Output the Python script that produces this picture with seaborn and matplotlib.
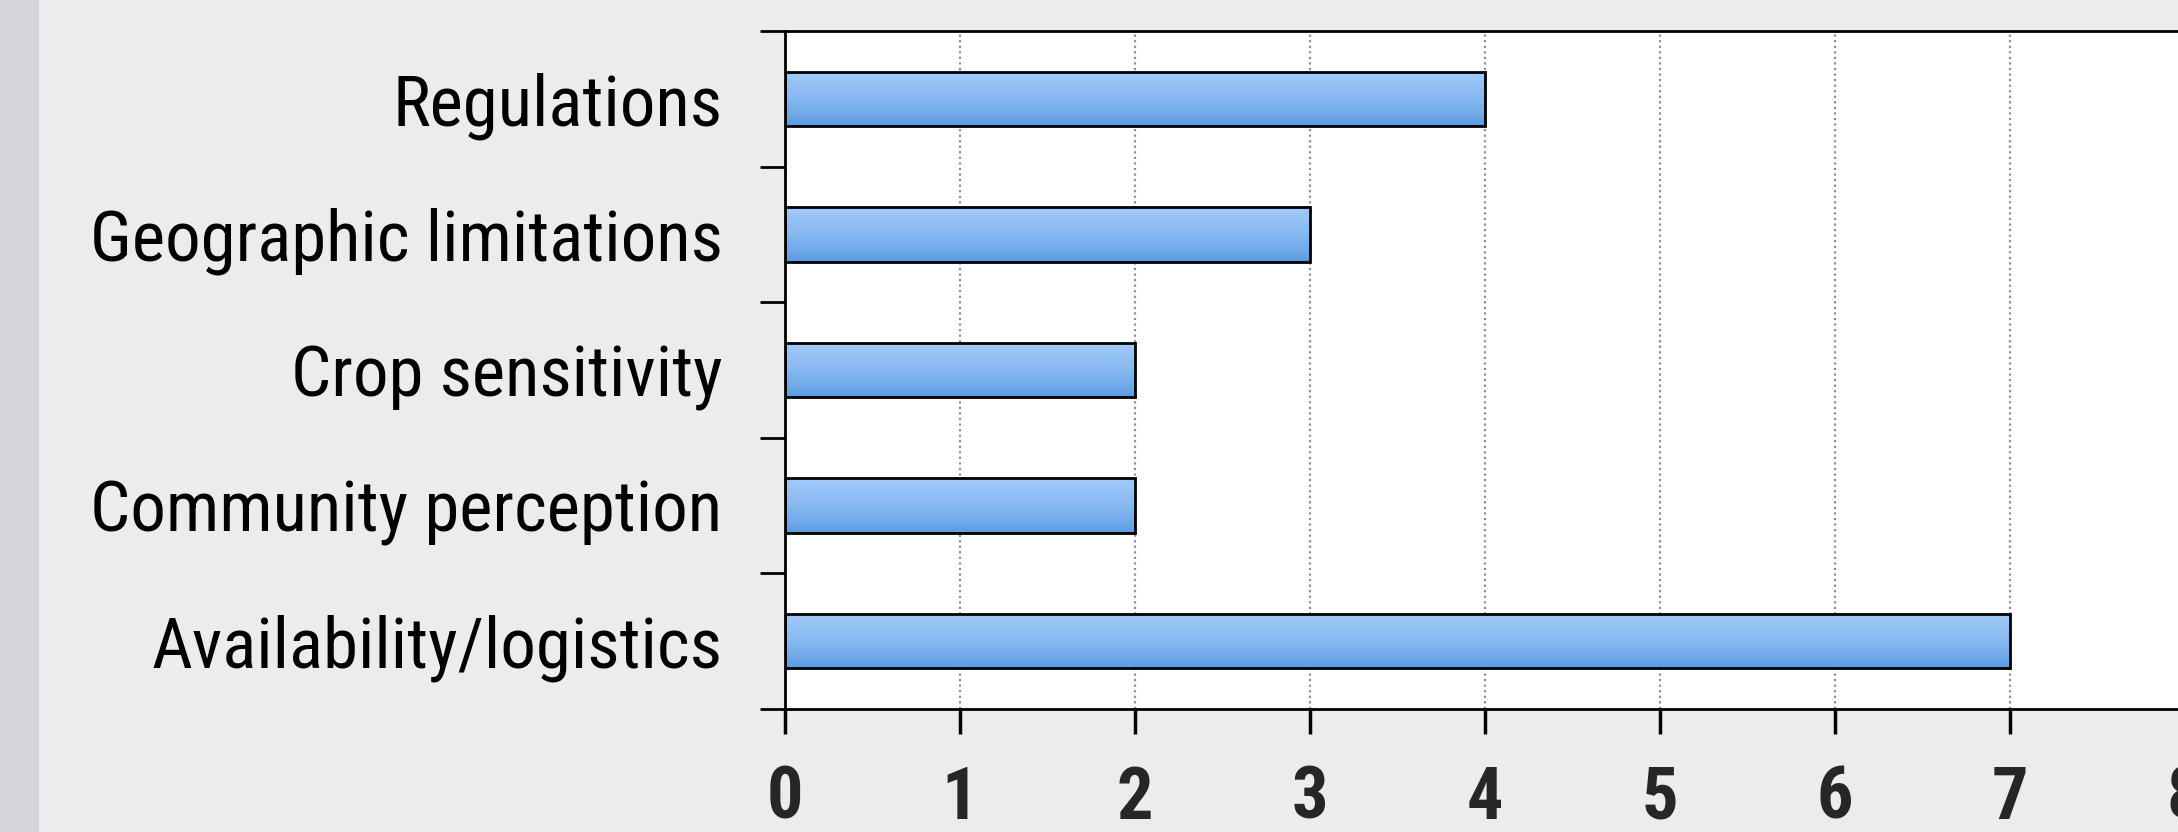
import numpy as np
import pandas as pd
import matplotlib
matplotlib.use("Agg")
import matplotlib.pyplot as plt
from matplotlib import font_manager
from matplotlib.patches import Rectangle
from matplotlib.colors import LinearSegmentedColormap
import seaborn as sns

# ---- data ----
categories = ["Regulations", "Geographic limitations", "Crop sensitivity",
              "Community perception", "Availability/logistics"]
counts = [4, 3, 2, 2, 7]
x_ticks = [0, 1, 2, 3, 4, 5, 6, 7, 8]
x_tick_labels = ["0", "1", "2", "3", "4", "5", "6", "7", "8"]

sns.set_theme(style="white")

available = {f.name for f in font_manager.fontManager.ttflist}
def pick(*names):
    for n in names:
        if n in available:
            return n
    return "DejaVu Sans"
narrow = pick("Liberation Sans Narrow", "Roboto Condensed", "Open Sans Condensed", "Liberation Sans")
plt.rcParams["font.family"] = [narrow, "DejaVu Sans"]

W, H, DPI = 2178, 832, 100
fig = plt.figure(figsize=(W / DPI, H / DPI), dpi=DPI)
fig.patch.set_facecolor("#ebecee")
fig.patches.append(Rectangle((0, 0), 39 / W, 1, transform=fig.transFigure,
                             facecolor="#d4d6da", edgecolor="none", zorder=0))

left, right = 785, 2185
top, bottom = 31, 709
ax = fig.add_axes([left / W, (H - bottom) / H, (right - left) / W, (bottom - top) / H])
ax.set_facecolor("white")

df = pd.DataFrame({"category": categories, "count": counts})
sns.barplot(data=df, x="count", y="category", orient="h", width=0.4,
            color="#7fb0ec", edgecolor="black", linewidth=2.0, ax=ax)

ax.set_xlim(0, 8)
ax.set_ylim(len(categories) - 0.5, -0.5)
ax.set_xlabel("")
ax.set_ylabel("")

# gradient fill inside each bar
cmap = LinearSegmentedColormap.from_list(
    "barg", [(0.0, "#a2caf9"), (0.5, "#86b8f1"), (0.8, "#71a9e9"), (1.0, "#5a9be1")])
grad = np.linspace(0, 1, 64).reshape(-1, 1)
for p in list(ax.patches):
    x0, y0 = p.get_x(), p.get_y()
    w, h = p.get_width(), p.get_height()
    ya, yb = min(y0, y0 + h), max(y0, y0 + h)
    im = ax.imshow(grad, cmap=cmap, aspect="auto", origin="upper",
                   extent=(x0, x0 + w, yb, ya), zorder=0.9, interpolation="bilinear")
    im.set_clip_path(p)
    p.set_facecolor("none")
    p.set_zorder(1.5)
ax.set_xlim(0, 8)
ax.set_ylim(len(categories) - 0.5, -0.5)

# grid
ax.set_axisbelow(True)
ax.xaxis.grid(True, linestyle=(0, (1, 1.5)), color="#8f8f8f", linewidth=1.6)
ax.yaxis.grid(False)

# spines
for s in ["left", "bottom", "top", "right"]:
    ax.spines[s].set_visible(True)
    ax.spines[s].set_color("black")
    ax.spines[s].set_linewidth(2.0)

# x ticks
ax.set_xticks(x_ticks)
ax.set_xticklabels(x_tick_labels, fontsize=52, fontweight="bold")
ax.tick_params(axis="x", direction="out", length=18, width=2.5, color="black", pad=22,
               bottom=True)

# y ticks: labels at centers, tick marks at band boundaries
ax.set_yticks(range(len(categories)))
ax.set_yticklabels(categories, fontsize=51, color="black")
ax.tick_params(axis="y", which="major", length=0, pad=45, left=True)
ax.set_yticks(np.arange(-0.5, len(categories), 1.0), minor=True)
ax.tick_params(axis="y", which="minor", direction="out", length=18, width=2.0,
               color="black", left=True)

fig.savefig("out.png", dpi=DPI, facecolor=fig.get_facecolor())
